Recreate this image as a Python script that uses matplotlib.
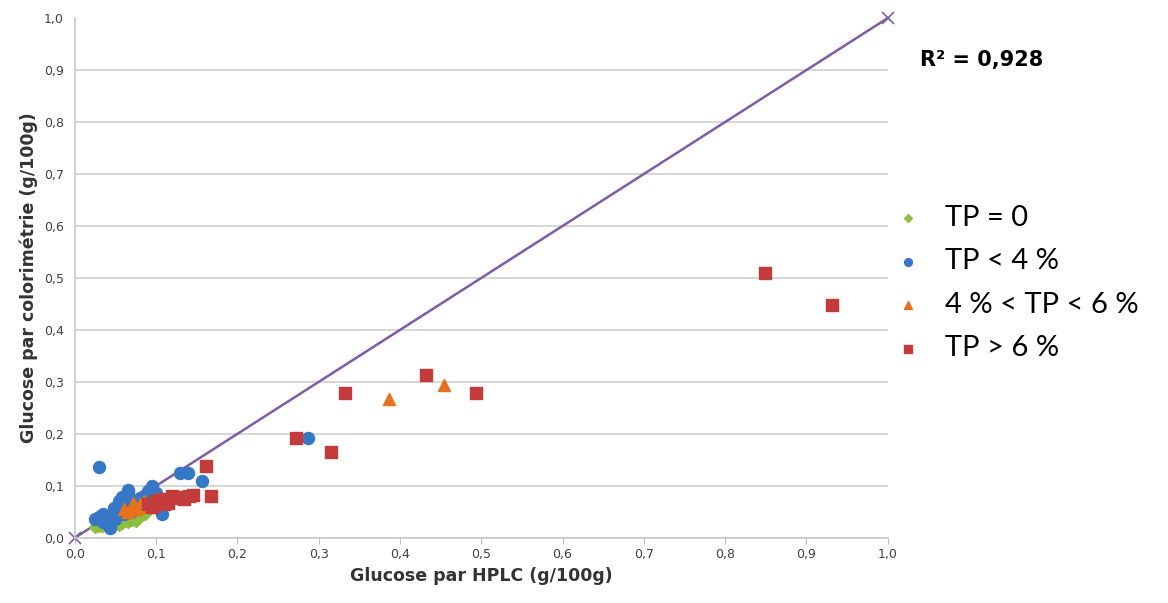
import numpy as np
import matplotlib.pyplot as plt

# TP = 0
x_tp0 = [0.025, 0.030, 0.034, 0.038, 0.042, 0.046, 0.050, 0.054, 0.058, 0.062, 0.066,
         0.070, 0.074, 0.078, 0.082, 0.086, 0.040, 0.055, 0.068, 0.075]
y_tp0 = [0.020, 0.022, 0.022, 0.025, 0.024, 0.027, 0.028, 0.030, 0.028, 0.032, 0.030,
         0.035, 0.036, 0.040, 0.042, 0.045, 0.030, 0.025, 0.038, 0.032]

# TP < 4 %
x_tp4 = [0.030, 0.287, 0.130, 0.139, 0.157, 0.107, 0.025, 0.030, 0.035, 0.040, 0.045,
         0.050, 0.055, 0.060, 0.065, 0.070, 0.075, 0.080, 0.085, 0.090, 0.095, 0.100,
         0.043, 0.050, 0.060, 0.035, 0.070, 0.066, 0.058, 0.048]
y_tp4 = [0.137, 0.192, 0.124, 0.124, 0.110, 0.046, 0.036, 0.040, 0.046, 0.032, 0.042,
         0.048, 0.070, 0.060, 0.088, 0.072, 0.066, 0.076, 0.080, 0.090, 0.100, 0.086,
         0.019, 0.036, 0.046, 0.030, 0.052, 0.092, 0.078, 0.058]

# 4 % < TP < 6 %
x_tp46 = [0.060, 0.065, 0.070, 0.075, 0.080, 0.085, 0.090, 0.095, 0.100, 0.072, 0.386, 0.454]
y_tp46 = [0.055, 0.050, 0.060, 0.055, 0.065, 0.070, 0.060, 0.070, 0.075, 0.068, 0.267, 0.294]

# TP > 6 %
x_tp6 = [0.849, 0.932, 0.432, 0.493, 0.333, 0.272, 0.315, 0.162, 0.168,
         0.090, 0.100, 0.105, 0.110, 0.115, 0.120, 0.125, 0.130, 0.135, 0.140, 0.145, 0.110, 0.095]
y_tp6 = [0.510, 0.448, 0.313, 0.279, 0.279, 0.192, 0.165, 0.138, 0.081,
         0.065, 0.070, 0.072, 0.075, 0.068, 0.080, 0.076, 0.078, 0.075, 0.080, 0.082, 0.065, 0.060]

fig = plt.figure(figsize=(11.68, 6.03), dpi=100)
ax = fig.add_axes([0.064, 0.108, 0.696, 0.862])

ax.plot([0, 1], [0, 1], color="#7E5CA6", lw=1.8, marker="x", ms=9, mew=1.2, zorder=2, clip_on=False)

ax.scatter(x_tp0, y_tp0, marker="D", s=38, color="#8DBE3E", label="TP = 0", zorder=3)
ax.scatter(x_tp4, y_tp4, marker="o", s=75, color="#3778C6", label="TP < 4 %", zorder=3)
ax.scatter(x_tp46, y_tp46, marker="^", s=75, color="#E8711C", label="4 % < TP < 6 %", zorder=4)
ax.scatter(x_tp6, y_tp6, marker="s", s=70, color="#C33B3B", label="TP > 6 %", zorder=4)

ax.set_xlim(0, 1)
ax.set_ylim(0, 1)
ticks = np.arange(0, 1.01, 0.1)
ax.set_xticks(ticks)
ax.set_yticks(ticks)
ax.set_xticklabels([f"{t:.1f}".replace(".", ",") for t in ticks], fontsize=9, color="#404040")
ax.set_yticklabels([f"{t:.1f}".replace(".", ",") for t in ticks], fontsize=9, color="#404040")
ax.tick_params(axis="both", length=4, color="#BFBFBF")
ax.tick_params(axis="y", length=0, pad=8)

ax.grid(axis="y", color="#D0D0D0", lw=1.2)
ax.get_ygridlines()[-1].set_visible(False)
ax.set_axisbelow(True)
for s in ["top", "right"]:
    ax.spines[s].set_visible(False)
for s in ["left", "bottom"]:
    ax.spines[s].set_color("#C8C8C8")
    ax.spines[s].set_linewidth(1.2)

ax.set_xlabel("Glucose par HPLC (g/100g)", fontsize=12.5, fontweight="bold", color="#333333")
ax.set_ylabel("Glucose par colorimétrie (g/100g)", fontsize=12.5, fontweight="bold", color="#333333")

fig.text(0.788, 0.9, "R² = 0,928", fontsize=15, fontweight="bold", ha="left", va="center")

leg = ax.legend(loc="center left", bbox_to_anchor=(0.975, 0.49), frameon=False,
                prop={"family": "Lato", "size": 21},
                handletextpad=0.75, labelspacing=0.6, handlelength=1.0, markerscale=0.65)

fig.savefig("out.png", dpi=100)
